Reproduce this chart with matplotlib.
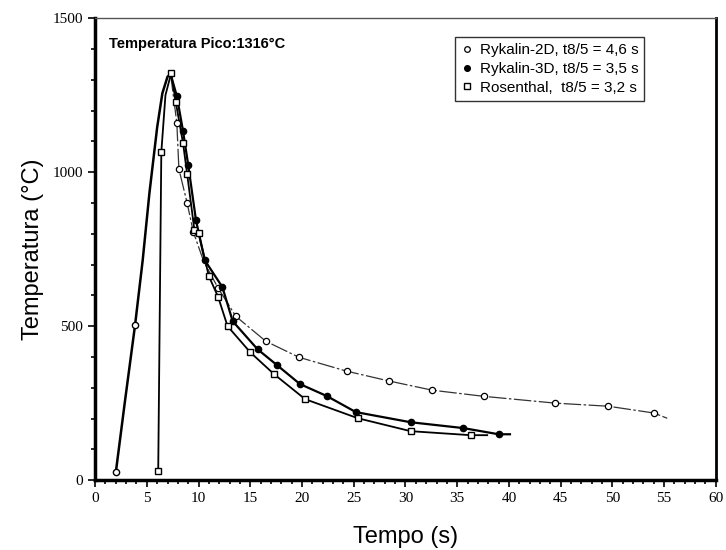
# coding: utf-8
"""Ciclo térmico: Rykalin-2D, Rykalin-3D e Rosenthal"""
import matplotlib
matplotlib.use("Agg")
import matplotlib.pyplot as plt
from matplotlib.ticker import MultipleLocator

# curva de aquecimento (comum aos modelos de Rykalin)
heat_t = [2.0, 2.9, 3.86, 4.6, 5.25, 6.0, 6.5, 7.0, 7.3]
heat_T = [25, 260, 503, 714, 932, 1146, 1256, 1310, 1318]
heat_mk_t = [2.0, 3.86]
heat_mk_T = [25, 503]

# Rykalin-2D (círculos abertos)
r2d_t = [7.3, 7.9, 8.1, 8.9, 9.5, 10.5, 11.9, 13.6, 16.5, 19.7, 24.3, 28.4, 32.6, 37.6, 44.5, 49.6, 54.0, 55.3]
r2d_T = [1318, 1159, 1010, 899, 805, 710, 623, 532, 451, 399, 354, 322, 292, 272, 250, 240, 218, 201]
r2d_mk_t = [7.9, 8.1, 8.9, 9.5, 11.9, 13.6, 16.5, 19.7, 24.3, 28.4, 32.6, 37.6, 44.5, 49.6, 54.0]
r2d_mk_T = [1159, 1010, 899, 805, 623, 532, 451, 399, 354, 322, 292, 272, 250, 240, 218]

# Rykalin-3D (círculos cheios)
r3d_t = [7.3, 7.9, 8.5, 9.0, 9.75, 10.6, 12.3, 13.3, 15.7, 17.6, 19.8, 22.4, 25.2, 30.5, 35.6, 39.0, 40.1]
r3d_T = [1318, 1247, 1133, 1023, 844, 714, 627, 516, 425, 373, 312, 273, 221, 188, 169, 149, 149]
r3d_mk_t = r3d_t[1:-1]
r3d_mk_T = r3d_T[1:-1]

# Rosenthal (quadrados)
ros_t = [6.1, 6.4, 6.8, 7.35, 7.8, 8.5, 8.9, 9.6, 10.0, 11.0, 11.9, 12.8, 15.0, 17.3, 20.3, 25.4, 30.5, 36.3, 37.9]
ros_T = [29, 1065, 1250, 1321, 1227, 1094, 993, 812, 802, 662, 594, 500, 415, 344, 263, 201, 159, 146, 146]
ros_mk_t = [6.1, 6.4, 7.35, 7.8, 8.5, 8.9, 9.6, 10.0, 11.0, 11.9, 12.8, 15.0, 17.3, 20.3, 25.4, 30.5, 36.3]
ros_mk_T = [29, 1065, 1321, 1227, 1094, 993, 812, 802, 662, 594, 500, 415, 344, 263, 201, 159, 146]

fig = plt.figure(figsize=(7.26, 5.5), dpi=100)
ax = fig.add_axes([0.131, 0.127, 0.855, 0.84])

# linhas
ax.plot(heat_t, heat_T, color="black", lw=1.8)
ax.plot(r2d_t, r2d_T, color="#333333", lw=0.9, ls=(0, (14, 2, 2, 2)))
ax.plot(r3d_t, r3d_T, color="black", lw=1.6)
ax.plot(ros_t, ros_T, color="black", lw=1.3)

# marcadores
ax.plot(heat_mk_t, heat_mk_T, "o", ms=4.5, mfc="white", mec="black", mew=1.0)
ax.plot(r2d_mk_t, r2d_mk_T, "o", ms=4.5, mfc="white", mec="black", mew=0.9,
        label="Rykalin-2D, t8/5 = 4,6 s")
ax.plot(r3d_mk_t, r3d_mk_T, "o", ms=4.5, mfc="black", mec="black",
        label="Rykalin-3D, t8/5 = 3,5 s")
ax.plot(ros_mk_t, ros_mk_T, "s", ms=5, mfc="white", mec="black", mew=1.0,
        label="Rosenthal,  t8/5 = 3,2 s")

ax.set_xlim(0, 60)
ax.set_ylim(0, 1500)
ax.xaxis.set_major_locator(MultipleLocator(5))
ax.xaxis.set_minor_locator(MultipleLocator(1))
ax.yaxis.set_major_locator(MultipleLocator(500))
ax.yaxis.set_minor_locator(MultipleLocator(100))
ax.tick_params(which="both", direction="out", width=1.2, color="black")
ax.tick_params(which="major", length=5)
ax.tick_params(which="minor", length=3)
for lab in ax.get_xticklabels() + ax.get_yticklabels():
    lab.set_family("Liberation Serif")
    lab.set_fontsize(11)

for side, w in [("left", 2.5), ("bottom", 2.5), ("right", 2.0), ("top", 1.0)]:
    ax.spines[side].set_linewidth(w)
ax.spines["top"].set_color("#555555")

ax.set_xlabel("Tempo (s)", family="Liberation Sans", fontsize=17, labelpad=15)
ax.set_ylabel("Temperatura (°C)", family="Liberation Sans", fontsize=17, labelpad=6)

ax.text(0.022, 0.935, "Temperatura Pico:1316°C", transform=ax.transAxes,
        family="Liberation Sans", fontsize=10.5, fontweight="bold")

leg = ax.legend(loc="upper right", bbox_to_anchor=(0.897, 0.975),
                prop={"family": "Liberation Sans", "size": 11},
                frameon=True, fancybox=False, edgecolor="black",
                handlelength=0.8, handletextpad=0.4, borderpad=0.4,
                labelspacing=0.3, markerscale=0.9)
leg.get_frame().set_linewidth(1.0)

fig.savefig("out.png", dpi=100)
